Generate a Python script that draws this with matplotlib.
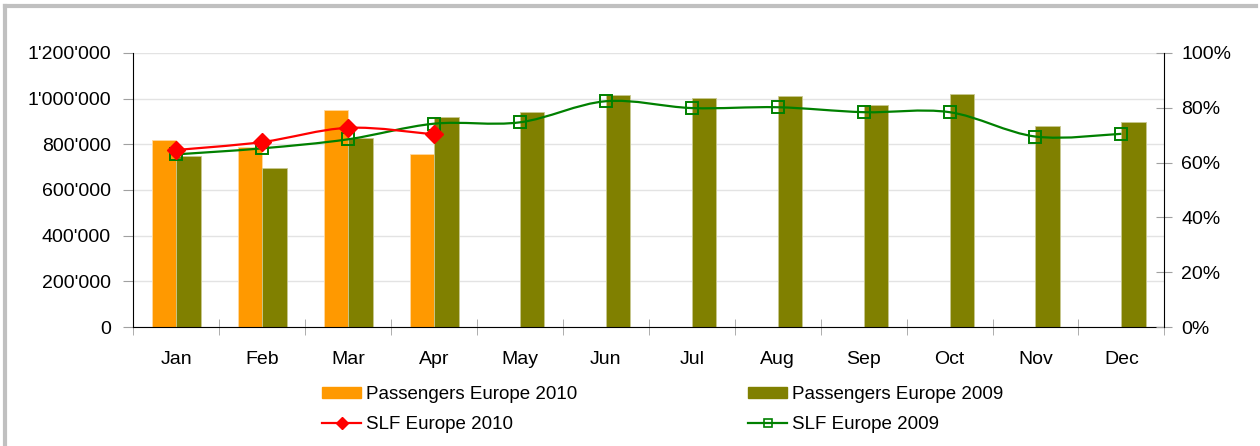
import numpy as np
import matplotlib
matplotlib.use("Agg")
from matplotlib import pyplot as plt
from matplotlib.path import Path
from matplotlib.patches import PathPatch
from matplotlib.lines import Line2D
from matplotlib.ticker import FuncFormatter, FixedLocator

plt.rcParams["font.family"] = ["Liberation Sans", "DejaVu Sans"]

months = ["Jan", "Feb", "Mar", "Apr", "May", "Jun",
          "Jul", "Aug", "Sep", "Oct", "Nov", "Dec"]
pax_2010 = [820000, 790000, 949000, 757000]
pax_2009 = [748000, 696000, 826000, 920000, 942000, 1015000,
            1001000, 1010000, 974000, 1021000, 882000, 896000]
slf_2010 = [64.6, 67.5, 72.7, 70.3]
slf_2009 = [63.0, 65.2, 68.5, 74.2, 74.7, 82.4,
            79.9, 80.2, 78.4, 78.4, 69.5, 70.5]

c_orange = "#FF9900"
c_olive = "#808000"
c_red = "#FF0000"
c_green = "#008000"


def smooth_path(x, y):
    # Excel-style smoothed line as cubic bezier segments
    x = np.asarray(x, float)
    y = np.asarray(y, float)
    n = len(x)
    verts = [(x[0], y[0])]
    codes = [Path.MOVETO]
    for i in range(n - 1):
        x0, y0 = (x[i - 1], y[i - 1]) if i > 0 else (x[i], y[i])
        x3, y3 = (x[i + 2], y[i + 2]) if i + 2 < n else (x[i + 1], y[i + 1])
        c1 = (x[i] + (x[i + 1] - x0) / 6, y[i] + (y[i + 1] - y0) / 6)
        c2 = (x[i + 1] - (x3 - x[i]) / 6, y[i + 1] - (y3 - y[i]) / 6)
        verts += [c1, c2, (x[i + 1], y[i + 1])]
        codes += [Path.CURVE4] * 3
    return Path(verts, codes)


fig = plt.figure(figsize=(12.6, 4.46), dpi=100)
ax = fig.add_axes([0.1058, 0.2668, 0.8183, 0.6144])
ax2 = ax.twinx()

x = np.arange(len(months))
w = 0.285
ax.bar(x[:len(pax_2010)] - w / 2, pax_2010, w, color=c_orange,
       edgecolor="#FFD9A0", linewidth=0.6, zorder=2)
ax.bar(x + w / 2, pax_2009, w, color=c_olive,
       edgecolor="#C8C890", linewidth=0.6, zorder=2)

ax.set_xlim(-0.5, 11.5)
ax.set_ylim(0, 1200000)
ax.set_yticks(np.arange(0, 1200001, 200000))
ax.yaxis.set_major_formatter(FuncFormatter(lambda v, p: f"{int(v):,}".replace(",", "'")))
ax.yaxis.grid(True, color="#E3E3E3", linewidth=1)
ax.set_axisbelow(True)
ax.set_xticks(x)
ax.set_xticklabels(months)
ax.xaxis.set_minor_locator(FixedLocator(np.arange(-0.5, 12, 1)))
ax.tick_params(axis="x", which="major", length=0, pad=17.5, labelsize=14)
ax.tick_params(axis="x", which="minor", length=12, direction="inout", color="#A0A0A0")
ax.tick_params(axis="y", length=7, color="#A0A0A0", labelsize=14, pad=9)
for s in ["top", "right"]:
    ax.spines[s].set_visible(False)
ax.spines["left"].set_color("black")
ax.spines["bottom"].set_color("black")

ax2.set_ylim(0, 100)
ax2.set_yticks(np.arange(0, 101, 20))
ax2.yaxis.set_major_formatter(FuncFormatter(lambda v, p: f"{int(v)}%"))
ax2.tick_params(axis="y", length=12, direction="inout", color="#A0A0A0", labelsize=14, pad=6)
for s in ["top", "left", "bottom"]:
    ax2.spines[s].set_visible(False)
ax2.spines["right"].set_color("black")

ax2.add_patch(PathPatch(smooth_path(x, slf_2009), fill=False, edgecolor=c_green, lw=1.6, zorder=3))
ax2.add_patch(PathPatch(smooth_path(x[:len(slf_2010)], slf_2010), fill=False, edgecolor=c_red, lw=1.6, zorder=3))
ax2.plot(x, slf_2009, linestyle="none", marker="s", markersize=8.5,
         markerfacecolor="none", markeredgecolor=c_green, markeredgewidth=1.4, zorder=4)
ax2.plot(x[:len(slf_2010)], slf_2010, linestyle="none", marker="D", markersize=9,
         color=c_red, zorder=4)

handles = [
    plt.Rectangle((0, 0), 1, 1, color=c_orange),
    Line2D([], [], color=c_red, lw=1.6, marker="D", markersize=6),
    plt.Rectangle((0, 0), 1, 1, color=c_olive),
    Line2D([], [], color=c_green, lw=1.6, marker="s", markersize=6,
           markerfacecolor="none", markeredgewidth=1.2),
]
labels = ["Passengers Europe 2010", "SLF Europe 2010",
          "Passengers Europe 2009", "SLF Europe 2009"]
fig.legend(handles, labels, ncol=2, loc="upper left",
           bbox_to_anchor=(322 / 1260, 1 - 386 / 446), frameon=False,
           fontsize=13.5, handlelength=2.1, handleheight=0.55, handletextpad=0.25,
           columnspacing=9.1, labelspacing=0.7, borderpad=0, borderaxespad=0)

# outer chart frame
fig.add_artist(Line2D([5 / 1260, 5 / 1260], [0, 1 - 6 / 446], color="#C0C0C0", lw=3,
                      transform=fig.transFigure))
fig.add_artist(Line2D([5 / 1260, 1256 / 1260], [1 - 6 / 446, 1 - 6 / 446], color="#C0C0C0", lw=3,
                      transform=fig.transFigure))

fig.savefig("out.png", dpi=100)
